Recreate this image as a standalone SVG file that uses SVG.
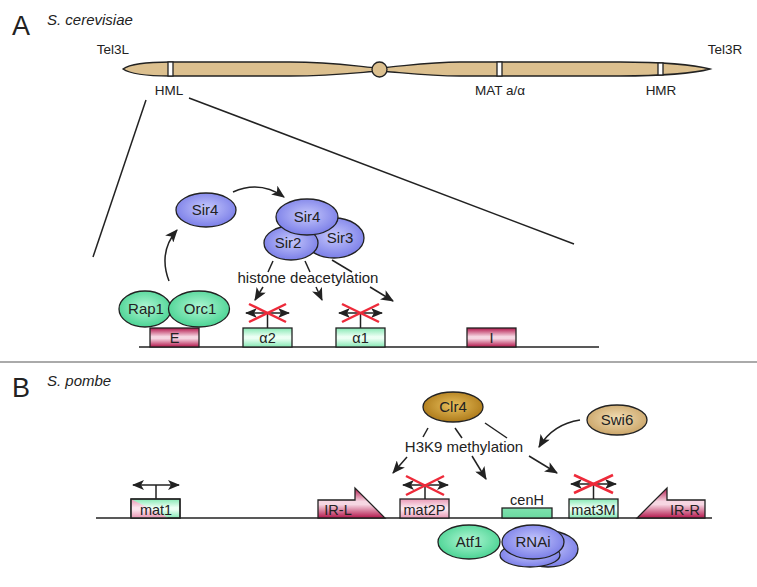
<svg xmlns="http://www.w3.org/2000/svg" width="757" height="587" viewBox="0 0 757 587">
<style>
text{font-family:"Liberation Sans","DejaVu Sans",sans-serif;fill:#222}
.lbl{font-size:13.5px;text-anchor:middle}
.el{font-size:15px;text-anchor:middle}
.bx{font-size:14.5px;text-anchor:middle}
.pt{font-size:27px}
.sp{font-size:15px;font-style:italic}
.ln{stroke:#222;stroke-width:1.5;fill:none}
.arr{stroke:#222;stroke-width:1.5;fill:none;marker-end:url(#ah)}
.dbl{stroke:#222;stroke-width:1.5;fill:none;marker-end:url(#sh);marker-start:url(#shs)}
.x{stroke:#ee2a3a;stroke-width:2.5}
.out{stroke:#222;stroke-width:1.3}
.chr{fill:#dcc08f;stroke:#222;stroke-width:1.3}
</style>
<defs>
<marker id="ah" viewBox="0 0 12 10" refX="11" refY="5" markerWidth="13" markerHeight="11" markerUnits="userSpaceOnUse" orient="auto"><path d="M0,0 L12,5 L0,10 L3,5 Z" fill="#222"/></marker>
<marker id="sh" viewBox="0 0 12 10" refX="11" refY="5" markerWidth="12" markerHeight="10" markerUnits="userSpaceOnUse" orient="auto"><path d="M0,0 L12,5 L0,10 L3,5 Z" fill="#222"/></marker>
<marker id="shs" viewBox="0 0 12 10" refX="11" refY="5" markerWidth="12" markerHeight="10" markerUnits="userSpaceOnUse" orient="auto-start-reverse"><path d="M0,0 L12,5 L0,10 L3,5 Z" fill="#222"/></marker>
<radialGradient id="gBlue" cx="50%" cy="45%" r="60%"><stop offset="0" stop-color="#c6c8fc"/><stop offset="1" stop-color="#7478e6"/></radialGradient>
<radialGradient id="gGreen" cx="50%" cy="45%" r="60%"><stop offset="0" stop-color="#b0f7d4"/><stop offset="1" stop-color="#42d08e"/></radialGradient>
<radialGradient id="gClr" cx="50%" cy="45%" r="60%"><stop offset="0" stop-color="#e8bf5c"/><stop offset="1" stop-color="#a87414"/></radialGradient>
<radialGradient id="gSwi" cx="50%" cy="45%" r="60%"><stop offset="0" stop-color="#f3dfb6"/><stop offset="1" stop-color="#c7a062"/></radialGradient>
<linearGradient id="gRed" x1="0" y1="0" x2="0" y2="1"><stop offset="0" stop-color="#b3174c"/><stop offset="0.45" stop-color="#f6d6e2"/><stop offset="0.55" stop-color="#f6d6e2"/><stop offset="1" stop-color="#b3174c"/></linearGradient>
<linearGradient id="gGbox" x1="0" y1="0" x2="0" y2="1"><stop offset="0" stop-color="#86e8b4"/><stop offset="0.45" stop-color="#ecfff4"/><stop offset="0.55" stop-color="#ecfff4"/><stop offset="1" stop-color="#86e8b4"/></linearGradient>
<linearGradient id="gPbox" x1="0" y1="0" x2="0" y2="1"><stop offset="0" stop-color="#e99ab6"/><stop offset="0.45" stop-color="#fbe6ee"/><stop offset="0.55" stop-color="#fbe6ee"/><stop offset="1" stop-color="#e99ab6"/></linearGradient>
<linearGradient id="gCen" x1="0" y1="0" x2="0" y2="1"><stop offset="0" stop-color="#7ee2ae"/><stop offset="1" stop-color="#6ad9a0"/></linearGradient>
</defs>
<rect width="757" height="587" fill="#fff"/>

<!-- Panel labels -->
<text x="12" y="35" class="pt">A</text>
<text x="47" y="25" class="sp">S. cerevisiae</text>
<line x1="0" y1="362" x2="757" y2="362" stroke="#aaa" stroke-width="2"/>
<text x="12" y="397" class="pt">B</text>
<text x="47" y="386" class="sp">S. pombe</text>

<!-- Chromosome -->
<g id="chromosome">
<path class="chr" d="M123,69 C130,64 150,62 170,62 L290,62 C330,62 355,66 373,67.5 L373,71.5 C355,73 330,76 290,76 L170,76 C150,76 130,74 123,69 Z"/>
<path class="chr" d="M386,67.5 C405,66 430,62 460,62 L620,62 C660,62 695,65 710,69 C695,73 660,76 620,76 L460,76 C430,76 405,73 386,71.5 Z"/>
<circle class="chr" cx="379.5" cy="69.5" r="7.5"/>
<rect x="168" y="62" width="5" height="14" fill="#fff" class="out"/>
<rect x="497" y="62" width="5" height="14" fill="#fff" class="out"/>
<rect x="658" y="63" width="5" height="12" fill="#fff" class="out"/>
<text x="113" y="54" class="lbl">Tel3L</text>
<text x="725" y="54" class="lbl">Tel3R</text>
<text x="169" y="95" class="lbl">HML</text>
<text x="500" y="95" class="lbl">MAT a/α</text>
<text x="661" y="95" class="lbl">HMR</text>
</g>

<!-- Connectors -->
<g id="connectors">
<line class="ln" x1="146" y1="100" x2="93" y2="257"/>
<line class="ln" x1="189" y1="98" x2="574" y2="244"/>
<path class="arr" d="M233,192 Q260,180 284,197"/>
<path class="arr" d="M169,281 Q158,252 177,230"/>
<line class="ln" x1="273" y1="261" x2="268" y2="272"/>
<line class="arr" x1="263" y1="287" x2="255" y2="300"/>
<line class="ln" x1="305" y1="261" x2="310" y2="272"/>
<line class="arr" x1="316" y1="287" x2="322" y2="300"/>
<line class="ln" x1="332" y1="260" x2="352" y2="272"/>
<line class="arr" x1="370" y1="287" x2="393" y2="301"/>
<line class="ln" x1="428" y1="428" x2="423" y2="437"/>
<line class="arr" x1="407" y1="457" x2="393" y2="473"/>
<line class="ln" x1="455" y1="428" x2="462" y2="438"/>
<line class="arr" x1="472" y1="456" x2="486" y2="479"/>
<line class="ln" x1="485" y1="423" x2="507" y2="438"/>
<line class="arr" x1="529" y1="456" x2="557" y2="473"/>
<path class="arr" d="M580,420 Q553,424 539,447"/>
</g>

<!-- Panel A proteins -->
<g id="sir4-free">
<ellipse cx="206" cy="210" rx="30" ry="17" fill="url(#gBlue)" class="out"/>
<text x="205" y="215" class="el">Sir4</text>
</g>
<g id="sir-complex">
<ellipse cx="334" cy="238" rx="30" ry="20" fill="url(#gBlue)" class="out"/>
<ellipse cx="291" cy="243" rx="27" ry="17" fill="url(#gBlue)" class="out"/>
<ellipse cx="307" cy="217" rx="31" ry="18" fill="url(#gBlue)" class="out"/>
<text x="307" y="222" class="el">Sir4</text>
<text x="288" y="248" class="el">Sir2</text>
<text x="340" y="243" class="el">Sir3</text>
</g>
<text x="308" y="283" class="el" font-size="14.7px">histone deacetylation</text>

<!-- Panel A locus -->
<line class="ln" x1="139" y1="347" x2="599" y2="347"/>
<g id="E">
<rect x="150" y="328" width="49" height="19" fill="url(#gRed)" class="out"/>
<text x="174.5" y="343" class="bx">E</text>
</g>
<g id="rap1-orc1">
<ellipse cx="145" cy="309" rx="26" ry="18" fill="url(#gGreen)" class="out"/>
<ellipse cx="199" cy="309" rx="30.5" ry="18" fill="url(#gGreen)" class="out"/>
<text x="146" y="314" class="el">Rap1</text>
<text x="200" y="314" class="el">Orc1</text>
</g>
<g id="alpha2">
<rect x="243" y="328" width="49" height="19" fill="url(#gGbox)" class="out"/>
<text x="267.5" y="343" class="bx">α2</text>
<line class="ln" x1="267.5" y1="313" x2="267.5" y2="328"/>
<line class="dbl" x1="246" y1="313" x2="289" y2="313"/>
<line class="x" x1="249" y1="304" x2="286" y2="322"/>
<line class="x" x1="249" y1="322" x2="286" y2="304"/>
</g>
<g id="alpha1">
<rect x="336" y="328" width="49" height="19" fill="url(#gGbox)" class="out"/>
<text x="360.5" y="343" class="bx">α1</text>
<line class="ln" x1="360.5" y1="313" x2="360.5" y2="328"/>
<line class="dbl" x1="339" y1="313" x2="382" y2="313"/>
<line class="x" x1="342" y1="304" x2="379" y2="322"/>
<line class="x" x1="342" y1="322" x2="379" y2="304"/>
</g>
<g id="I">
<rect x="467" y="328" width="49" height="19" fill="url(#gRed)" class="out"/>
<text x="491.5" y="343" class="bx">I</text>
</g>

<!-- Panel B -->
<g id="clr4">
<ellipse cx="453" cy="407" rx="30" ry="15" fill="url(#gClr)" class="out"/>
<text x="453" y="412" class="el">Clr4</text>
</g>
<g id="swi6">
<ellipse cx="617" cy="420" rx="30" ry="15" fill="url(#gSwi)" class="out"/>
<text x="617" y="425" class="el">Swi6</text>
</g>
<text x="464" y="452" class="el" font-size="14.7px">H3K9 methylation</text>

<line class="ln" x1="96" y1="518" x2="712" y2="518"/>
<g id="mat1">
<rect x="131" y="499" width="49" height="19" fill="url(#gGbox)" class="out"/>
<polygon points="131.6,499.6 131.6,517.4 168,517.4" fill="url(#gPbox)"/>
<rect x="131" y="499" width="49" height="19" fill="none" class="out"/>
<text x="156" y="515" class="bx">mat1</text>
<line class="ln" x1="156" y1="485" x2="156" y2="499"/>
<line class="dbl" x1="133" y1="485" x2="179" y2="485"/>
</g>
<g id="IR-L">
<polygon points="318,500 355,500 355,488 385,518 318,518" fill="url(#gRed)" class="out"/>
<text x="338" y="515" class="bx">IR-L</text>
</g>
<g id="mat2P">
<rect x="400" y="499" width="49" height="19" fill="url(#gPbox)" class="out"/>
<text x="424.5" y="515" class="bx">mat2P</text>
<line class="ln" x1="425" y1="485" x2="425" y2="499"/>
<line class="dbl" x1="403" y1="485" x2="448" y2="485"/>
<line class="x" x1="406" y1="476" x2="444" y2="495"/>
<line class="x" x1="406" y1="495" x2="444" y2="476"/>
</g>
<g id="cenH">
<rect x="502" y="508" width="50" height="10" fill="url(#gCen)" class="out"/>
<text x="527" y="505" class="bx">cenH</text>
</g>
<g id="mat3M">
<rect x="569" y="499" width="49" height="19" fill="url(#gGbox)" class="out"/>
<text x="593.5" y="515" class="bx">mat3M</text>
<line class="ln" x1="593.5" y1="484" x2="593.5" y2="499"/>
<line class="dbl" x1="571" y1="484" x2="616" y2="484"/>
<line class="x" x1="574" y1="475" x2="613" y2="493"/>
<line class="x" x1="574" y1="493" x2="613" y2="475"/>
</g>
<g id="IR-R">
<polygon points="705,500 667,500 667,488 637,518 705,518" fill="url(#gRed)" class="out"/>
<text x="685" y="515" class="bx">IR-R</text>
</g>
<g id="atf1">
<ellipse cx="469" cy="542" rx="31" ry="17" fill="url(#gGreen)" class="out"/>
<text x="469" y="547" class="el">Atf1</text>
</g>
<g id="rnai">
<ellipse cx="548" cy="549" rx="30" ry="18" fill="url(#gBlue)" class="out"/>
<ellipse cx="530" cy="555" rx="30" ry="12" fill="url(#gBlue)" class="out"/>
<ellipse cx="533" cy="542" rx="31" ry="17" fill="url(#gBlue)" class="out"/>
<text x="533" y="547" class="el">RNAi</text>
</g>
</svg>
